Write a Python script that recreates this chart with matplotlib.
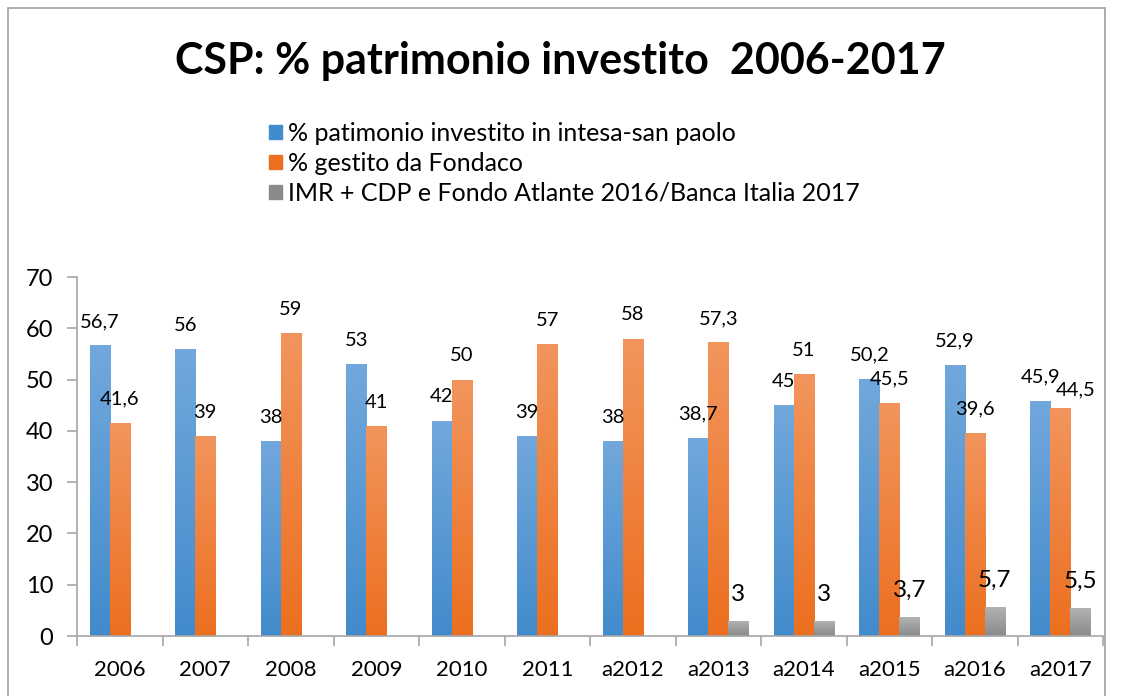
import numpy as np
import matplotlib
matplotlib.use('Agg')
import matplotlib.pyplot as plt
from matplotlib.colors import LinearSegmentedColormap
from matplotlib.patches import Rectangle

plt.rcParams['font.family'] = ['Lato', 'DejaVu Sans']

categories = ['2006', '2007', '2008', '2009', '2010', '2011',
              'a2012', 'a2013', 'a2014', 'a2015', 'a2016', 'a2017']
intesa = [56.7, 56, 38, 53, 42, 39, 38, 38.7, 45, 50.2, 52.9, 45.9]
fondaco = [41.6, 39, 59, 41, 50, 57, 58, 57.3, 51, 45.5, 39.6, 44.5]
altri = [0, 0, 0, 0, 0, 0, 0, 3, 3, 3.7, 5.7, 5.5]

labels = ['% patimonio investito in intesa-san paolo',
          '% gestito da Fondaco',
          'IMR + CDP e Fondo Atlante 2016/Banca Italia 2017']

# gradient colors (top, bottom)
grads = [('#72a8dc', '#428bcc'),
         ('#f2955d', '#ec6f1f'),
         ('#b3b3b3', '#8a8a8a')]


def fmt(v):
    s = ('%g' % v).replace('.', ',')
    return s


def gradient_bars(ax, bars, top, bottom):
    cmap = LinearSegmentedColormap.from_list('g', [bottom, top])
    grad = np.linspace(0, 1, 256).reshape(-1, 1)
    for b in bars:
        h = b.get_height()
        if h <= 0:
            continue
        x0 = b.get_x()
        w = b.get_width()
        im = ax.imshow(grad, cmap=cmap, origin='lower', aspect='auto',
                       extent=(x0, x0 + w, 0, h), zorder=2)
        im.set_clip_path(b)


fig = plt.figure(figsize=(11.21, 6.96), dpi=100)
ax = fig.add_axes([0.0687, 0.0862, 0.9153, 0.5158])

x = np.arange(len(categories))
w = 0.234
series = [intesa, fondaco, altri]
offsets = [-w, 0, w]

for i, (vals, off) in enumerate(zip(series, offsets)):
    bars = ax.bar(x + off, vals, w, color=grads[i][1], label=labels[i],
                  zorder=1, linewidth=0)
    for b in bars:
        b.set_facecolor('none')
    gradient_bars(ax, bars, grads[i][0], grads[i][1])
    for j, v in enumerate(vals):
        if v <= 0:
            continue
        dx = 0
        dy = 17
        size = 14.5
        if i == 2:
            size = 17.5
            dy = 19
        if i == 1 and categories[j] == 'a2017':
            dx = 11
            dy = 13
        ax.annotate(fmt(v), (x[j] + off, v), xytext=(dx, dy),
                    textcoords='offset points', ha='center', va='center',
                    fontsize=size, color='black', zorder=5)

ax.set_xlim(-0.5, len(categories) - 0.5)
ax.set_ylim(0, 70)
ax.set_yticks(range(0, 71, 10))
ax.set_xticks(x)
ax.set_xticklabels(categories, fontsize=16)
ax.tick_params(axis='x', length=0, pad=17)
ax.set_xticks(np.arange(-0.5, len(categories)), minor=True)
ax.tick_params(axis='x', which='minor', length=7, color='#a6a6a6', width=1.2)
ax.tick_params(axis='y', length=7, color='#a6a6a6', width=1.2, labelsize=17, pad=10)
for s in ['top', 'right']:
    ax.spines[s].set_visible(False)
for s in ['left', 'bottom']:
    ax.spines[s].set_color('#a6a6a6')
    ax.spines[s].set_linewidth(1.2)

# legend with proxy handles
handles = [Rectangle((0, 0), 1, 1, color=g[1]) for g in grads]
fig.legend(handles, labels, loc='upper left', bbox_to_anchor=(0.229, 0.843),
           frameon=False, fontsize=18, handlelength=0.52, handleheight=0.52,
           handletextpad=0.25, labelspacing=0.28, borderpad=0)

fig.text(0.5, 0.913, 'CSP: % patrimonio investito  2006-2017', ha='center',
         va='center', fontsize=31, fontweight='bold')

# outer chart border
fig.add_artist(Rectangle((8 / 1121, -0.05), 1105 / 1121 - 8 / 1121, 1.05 - 8 / 696,
                         transform=fig.transFigure, fill=False,
                         edgecolor='#a0a0a0', linewidth=1.2))

fig.savefig('out.png', dpi=100)
